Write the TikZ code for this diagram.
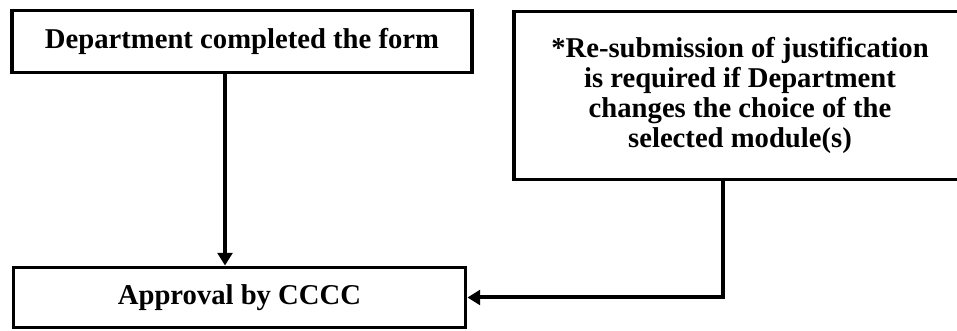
\documentclass[tikz,border=0pt]{standalone}
\usepackage{fontspec}
\setmainfont{Liberation Serif}
\usepackage{tikz}
\usetikzlibrary{calc,arrows.meta}
\tikzset{
  box/.style={draw=black,line width=2.4pt,fill=white,align=center,inner sep=0pt,
    font=\fontsize{21.5}{22.5}\selectfont\bfseries},
  ar/.style={-{Triangle[length=9.5pt,width=11pt]},line width=3pt,black}
}
\begin{document}
\begin{tikzpicture}[x=0.75pt,y=-0.75pt]
\useasboundingbox (0,0) rectangle (957,331);
\node[box,minimum width=345pt,minimum height=47pt] (form) at (242,41.5) {Department completed the form};
\node[box,minimum width=339pt,minimum height=126.5pt] (resub) at (740,95.5)
  {*Re-submission of justification\\is required if Department\\changes the choice of the\\selected module(s)};
\node[box,minimum width=339.5pt,minimum height=45.5pt] (cccc) at (239.5,297.5) {Approval by CCCC};
\coordinate (a1) at ([xshift=-12.75pt]form.south);
\coordinate (a2) at ([xshift=-12.75pt]resub.south);
\draw[ar] (a1) -- (a1 |- cccc.north);
\draw[ar] (a2) |- (cccc.east);
\end{tikzpicture}
\end{document}
